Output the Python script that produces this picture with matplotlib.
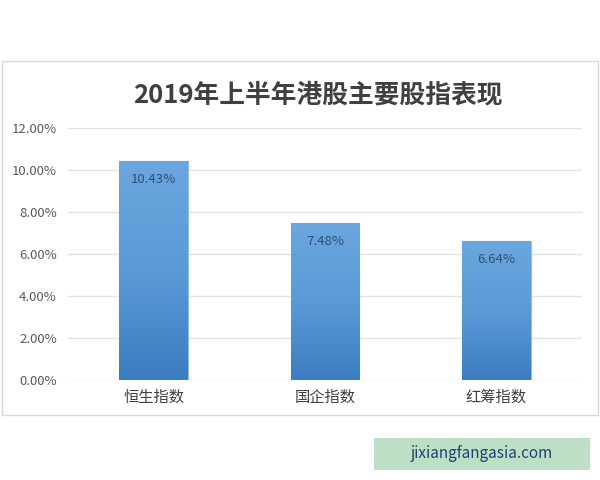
import numpy as np
import matplotlib.pyplot as plt
from matplotlib.patches import Rectangle
from matplotlib.colors import LinearSegmentedColormap

plt.rcParams["font.family"] = ["Noto Sans CJK SC", "DejaVu Sans"]

# --------------------------------------------------
# Data
# --------------------------------------------------

title = "2019年上半年港股主要股指表现"
categories = ["恒生指数", "国企指数", "红筹指数"]
returns = [10.43, 7.48, 6.64]
y_ticks = [0, 2, 4, 6, 8, 10, 12]

# --------------------------------------------------
# Figure
# --------------------------------------------------

fig = plt.figure(figsize=(6, 4.8), dpi=100)

# light frame around the chart
fig.patches.append(Rectangle((2 / 600, 1 - 415 / 480), 596 / 600, 354 / 480,
                             transform=fig.transFigure, fill=False,
                             edgecolor="#d9d9d9", linewidth=1.0))

ax = fig.add_axes([68 / 600, 1 - 380 / 480, 514 / 600, 252 / 480])

x = np.arange(len(categories))
bars = ax.bar(x, returns, width=0.4, color="#5b9bd5",
              edgecolor="#8cc0ec", linewidth=0.8, zorder=3)

# vertical gradient fill, light at top, darker at bottom
cmap = LinearSegmentedColormap.from_list("bar", ["#3c7dc0", "#5a9ad6", "#6ba7df"])
grad = np.linspace(0, 1, 256).reshape(-1, 1)
for b in bars:
    x0, y0 = b.get_x(), b.get_y()
    w, h = b.get_width(), b.get_height()
    im = ax.imshow(grad, cmap=cmap, origin="lower", aspect="auto",
                   extent=[x0, x0 + w, y0, y0 + h], zorder=3.5)
    im.set_clip_path(b)
    ax.text(x0 + w / 2, h - 0.9, f"{h:.2f}%", ha="center", va="center",
            fontsize=9.5, color="#2f4f75", zorder=5)

ax.set_xlim(-0.5, len(categories) - 0.5)
ax.set_ylim(0, 12)
ax.set_yticks(y_ticks)
ax.set_yticklabels([f"{v:.2f}%" for v in y_ticks], fontsize=9.5, color="#595959")
ax.set_xticks(x)
ax.set_xticklabels(categories, fontsize=11, color="#404040")
ax.tick_params(length=0, pad=8)
ax.tick_params(axis="x", pad=6)

ax.grid(axis="y", color="#e3e3e3", linewidth=1.0, zorder=0)
for s in ax.spines.values():
    s.set_visible(False)

fig.text(0.53, 1 - 95 / 480, title, ha="center", va="center",
         fontsize=18.5, fontweight="bold", color="#404040")

# site label box at bottom right
fig.patches.append(Rectangle((374 / 600, 1 - 470 / 480), 216 / 600, 32 / 480,
                             transform=fig.transFigure, facecolor="#bde0c4",
                             edgecolor="none"))
fig.text(482 / 600, 1 - 454 / 480, "jixiangfangasia.com", ha="center", va="center",
         fontsize=11, color="#1f3f7a")

fig.savefig("out.png", dpi=100, facecolor="white")
plt.close(fig)
